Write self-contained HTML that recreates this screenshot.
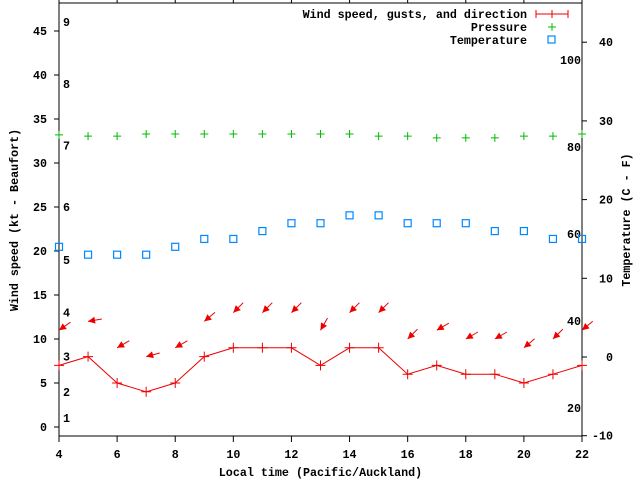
<!DOCTYPE html>
<html><head><meta charset="utf-8"><style>
html,body{margin:0;padding:0;background:#fff;}
svg text{font-family:"Liberation Mono","DejaVu Sans Mono",monospace;font-size:11.7px;font-weight:bold;fill:#000;}
</style></head><body>
<svg id="chart" width="640" height="480" xmlns="http://www.w3.org/2000/svg">
<g id="axes"></g>
<g id="marks"></g>
<g id="legend">
<text x="527" y="18" text-anchor="end">Wind speed, gusts, and direction</text>
<g stroke="#e00" stroke-width="1"><line x1="536" y1="14" x2="568" y2="14"/><line x1="536" y1="10" x2="536" y2="18"/><line x1="568" y1="10" x2="568" y2="18"/><line x1="552" y1="10" x2="552" y2="18"/></g>
<text x="527" y="31" text-anchor="end">Pressure</text>
<g stroke="#0b0" stroke-width="1"><line x1="548" y1="27" x2="556" y2="27"/><line x1="552" y1="23" x2="552" y2="31"/></g>
<text x="527" y="44" text-anchor="end">Temperature</text>
<rect x="548" y="36" width="7" height="7" fill="none" stroke="#08f" stroke-width="1.2"/>
</g>
</svg>
<script>
const hours=[4,5,6,7,8,9,10,11,12,13,14,15,16,17,18,19,20,21,22];
const windSpeed=[7,8,5,4,5,8,9,9,9,7,9,9,6,7,6,6,5,6,7];
const gusts=[11,12,9,8,9,12,13,13,13,11,13,13,10,11,10,10,9,10,11];
const windDir=[55,80,60,75,60,50,45,45,45,30,45,45,45,60,60,60,50,45,50];
const pressure=[82.8,82.5,82.5,83,83,83,83,83,83,83,83,82.5,82.5,82.1,82.1,82.1,82.5,82.5,83];
const temperature=[14,13,13,13,14,15,15,16,17,17,18,18,17,17,17,16,16,15,15];
const xTicks=[4,6,8,10,12,14,16,18,20,22];
const yTicks=[0,5,10,15,20,25,30,35,40,45];
const tempTicks=[-10,0,10,20,30,40];
const pressTicks=[20,40,60,80,100];
const beaufort=[1,2,3,4,5,6,7,8,9];
const beaufortKt=[1,4,8,13,19,25,32,39,46];

const L=59,R=582,T=3,B=436;
const X=h=>L+(h-4)*(R-L)/18;
const Y=v=>427-v*8.8;
const YT=t=>357-t*7.87;
const YP=p=>147-(p-80)*4.35;
const NS="http://www.w3.org/2000/svg";
function mk(tag,attrs,parent){const e=document.createElementNS(NS,tag);for(const k in attrs)e.setAttribute(k,attrs[k]);parent.appendChild(e);return e;}
const axes=document.getElementById('axes'),marks=document.getElementById('marks');

const frame=mk('rect',{x:L,y:T,width:R-L,height:B-T,fill:'none',stroke:'#000','stroke-width':1},axes);


xTicks.forEach(h=>{
  const t=mk('line',{x1:X(h),y1:B,x2:X(h),y2:B+6,stroke:'#000'},axes);
  
  
  const t2=mk('line',{x1:X(h),y1:T,x2:X(h),y2:T-4,stroke:'#000'},axes);
  
  
  const l=mk('text',{x:X(h),y:B+22,'text-anchor':'middle'},axes);l.textContent=h;
  
  
});
yTicks.forEach(v=>{
  const t=mk('line',{x1:L-5,y1:Y(v),x2:L,y2:Y(v),stroke:'#000'},axes);
  
  
  const l=mk('text',{x:L-12,y:Y(v)+4,'text-anchor':'end'},axes);l.textContent=v;
  
  
});
tempTicks.forEach(v=>{
  const t=mk('line',{x1:R,y1:YT(v),x2:R+5,y2:YT(v),stroke:'#000'},axes);
  
  
  const l=mk('text',{x:613,y:YT(v)+4,'text-anchor':'end'},axes);l.textContent=v;
  
  
});
pressTicks.forEach(v=>{
  const l=mk('text',{x:581,y:YP(v)+4,'text-anchor':'end'},axes);l.textContent=v;
  
  
});
beaufort.forEach((b,i)=>{
  const l=mk('text',{x:63,y:Y(beaufortKt[i])+4},axes);l.textContent=b;
  
  
});
const xt=mk('text',{x:(L+R)/2,y:476,'text-anchor':'middle'},axes);xt.textContent='Local time (Pacific/Auckland)';


const yt=mk('text',{x:18,y:220,'text-anchor':'middle',transform:'rotate(-90 18 220)'},axes);yt.textContent='Wind speed (kt - Beaufort)';


const rt=mk('text',{x:630,y:220,'text-anchor':'middle',transform:'rotate(-90 630 220)'},axes);rt.textContent='Temperature (C - F)';



const pl=mk('polyline',{points:hours.map((h,i)=>X(h)+','+Y(windSpeed[i])).join(' '),fill:'none',stroke:'#e00','stroke-width':1},marks);


hours.forEach((h,i)=>{
  const x=X(h),y=Y(windSpeed[i]);
  const p=mk('path',{d:`M${x-5},${y}H${x+5}M${x},${y-5}V${y+5}`,stroke:'#e00','stroke-width':1},marks);
  
  
  const gx=x,gy=Y(gusts[i]);const a=windDir[i]*Math.PI/180;
  const dx=Math.sin(a),dy=-Math.cos(a);
  const tx=gx+dx*14,ty=gy+dy*14;
  const hx=gx+dx*7,hy=gy+dy*7,px=-dy*3.5,py=dx*3.5;
  const g=mk('g',{},marks);
  
  
  mk('line',{x1:gx,y1:gy,x2:tx,y2:ty,stroke:'#e00','stroke-width':1},g);
  mk('polygon',{points:`${gx},${gy} ${hx+px},${hy+py} ${hx-px},${hy-py}`,fill:'#e00'},g);
  const px2=X(h),py2=YP(pressure[i]);
  const pp=mk('path',{d:`M${px2-4},${py2}H${px2+4}M${px2},${py2-4}V${py2+4}`,stroke:'#0b0','stroke-width':1},marks);
  
  
  const ty2=YT(temperature[i]);
  const r=mk('rect',{x:X(h)-3.5,y:ty2-3.5,width:7,height:7,fill:'none',stroke:'#08f','stroke-width':1.2},marks);
  
  
});
</script>
</body></html>
